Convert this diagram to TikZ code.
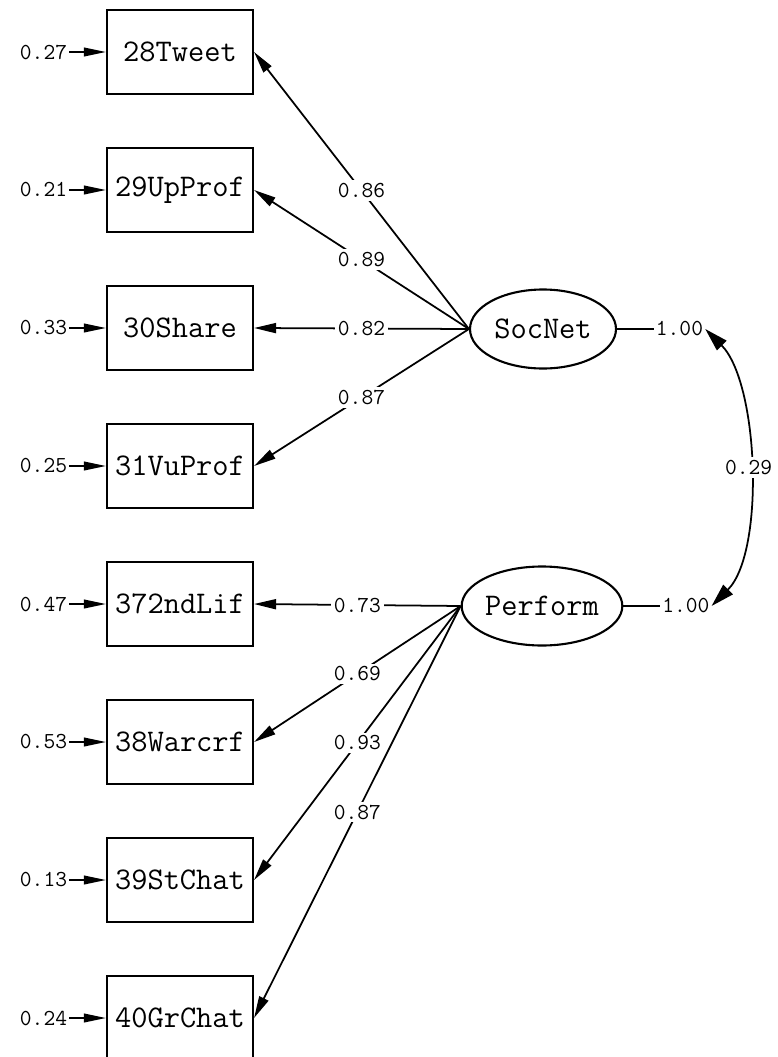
\documentclass[tikz,border=0pt]{standalone}
\usepackage{fontspec}
\usetikzlibrary{arrows.meta,positioning,shapes.geometric}
\tikzset{
  obs/.style={rectangle, draw, line width=1.8pt, minimum width=43.8mm, minimum height=25.2mm,
              inner sep=0pt, font=\ttfamily\fontsize{26.9}{30}\selectfont},
  lat/.style={ellipse, draw, line width=1.8pt, minimum width=43.8mm, minimum height=23.7mm,
              inner sep=0pt, font=\ttfamily\fontsize{26.9}{30}\selectfont},
  val/.style={inner sep=0.6mm, font=\ttfamily\fontsize{19.5}{22}\selectfont},
  lbl/.style={val, fill=white, inner sep=0.9mm},
  load/.style={-{Triangle[length=6.6mm,width=3mm]}, line width=1.5pt},
  errarr/.style={-{Triangle[length=6.6mm,width=2.6mm]}, line width=1.5pt},
  cov/.style={{Triangle[length=7mm,width=4mm]}-{Triangle[length=7mm,width=4mm]}, line width=1.5pt},
}
\begin{document}
\begin{tikzpicture}[x=0.3mm, y=-0.3mm]
    \useasboundingbox (0,0) rectangle (778,1057);
    % observed variables with their error variances
    \foreach \n/\e [count=\i] in {28Tweet/0.27, 29UpProf/0.21, 30Share/0.33, 31VuProf/0.25,
                                  372ndLif/0.47, 38Warcrf/0.53, 39StChat/0.13, 40GrChat/0.24} {
      \node[obs] (b\i) at (180,{52+138*(\i-1)}) {\n};
      \node[val, left=11mm of b\i] (e\i) {\e};
      \draw[errarr] (e\i) -- (b\i);
    }
    % latent factors
    \node[lat] (soc) at (543,329) {SocNet};
    \node[lat] (perf) at (542,606) {Perform};
    \foreach \i/\v in {1/0.86, 2/0.89, 3/0.82, 4/0.87}
      \draw[load] (soc.west) -- node[lbl] {\v} (b\i.east);
    \foreach \i/\v in {5/0.73, 6/0.69, 7/0.93, 8/0.87}
      \draw[load] (perf.west) -- node[lbl] {\v} (b\i.east);
    % factor variances and covariance
    \node[val, right=11mm of soc] (vs) {1.00};
    \node[val, right=11mm of perf] (vp) {1.00};
    \draw[line width=1.5pt] (soc) -- (vs); \draw[line width=1.5pt] (perf) -- (vp);
    \draw[cov] (vs.east) to[out=-45, in=45, looseness=0.7] node[lbl] {0.29} (vp.east);
\end{tikzpicture}
\end{document}
